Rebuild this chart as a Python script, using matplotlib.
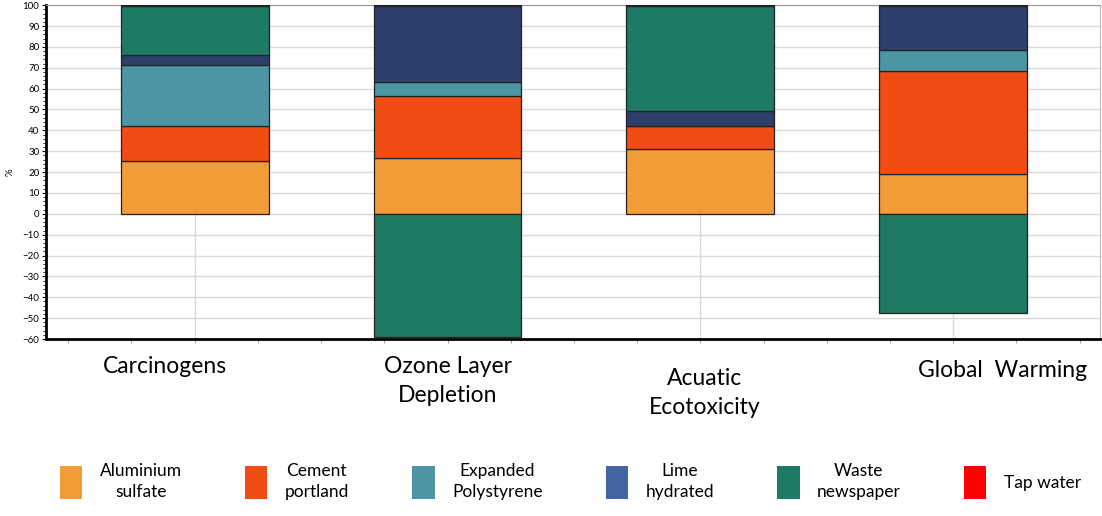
"""Stacked contribution chart (% per impact category)."""
import numpy as np
import matplotlib
matplotlib.use("Agg")
from matplotlib import pyplot as plt
from matplotlib.patches import Patch

# Data ========================================================================

categories = ["Carcinogens", "Ozone Layer\nDepletion", "Acuatic\nEcotoxicity", "Global  Warming"]
series = ["Aluminium\nsulfate", "Cement\nportland", "Expanded\nPolystyrene",
          "Lime\nhydrated", "Waste\nnewspaper", "Tap water"]

aluminium_sulfate = [25.4, 26.7, 31.0, 19.3]
cement_portland = [16.9, 29.7, 10.9, 49.0]
expanded_polystyrene = [28.9, 6.8, 0.0, 10.1]
lime_hydrated = [4.8, 36.5, 7.6, 21.3]
waste_newspaper = [23.7, -59.0, 50.2, -47.7]
tap_water = [0.3, 0.3, 0.3, 0.3]

values = [aluminium_sulfate, cement_portland, expanded_polystyrene,
          lime_hydrated, waste_newspaper, tap_water]

bar_colors = ["#F29C38", "#F04C14", "#4C95A5", "#2D3F6A", "#1E7A64", "#FF0000"]
legend_colors = ["#F29C38", "#F04C14", "#4C95A5", "#4465A3", "#1E7A64", "#FF0000"]

# Plot ========================================================================

plt.rcParams['font.family'] = ['Lato', 'DejaVu Sans']

fig = plt.figure(figsize=(11.02, 5.16), dpi=100)
ax = fig.add_axes([0.042, 0.343, 0.956, 0.647])

x = np.arange(len(categories))
pos_base = np.zeros(len(categories))
neg_base = np.zeros(len(categories))
for vals, color in zip(values, bar_colors):
    vals = np.array(vals)
    bottom = np.where(vals >= 0, pos_base, neg_base)
    ax.bar(x, vals, width=0.585, bottom=bottom, color=color,
           edgecolor="#222222", linewidth=0.9, zorder=3)
    pos_base += np.where(vals >= 0, vals, 0)
    neg_base += np.where(vals < 0, vals, 0)

ax.set_xlim(-0.587, 3.58)
ax.set_ylim(-60, 100)
ax.set_yticks(np.arange(-60, 101, 10))
ax.set_yticks(np.arange(-60, 101, 2), minor=True)
ax.tick_params(axis="y", labelsize=7, length=3, width=0.8, pad=2)
ax.tick_params(axis="y", which="minor", length=2, width=0.6)
ax.set_xticks(np.arange(-0.5, 3.6, 0.25))
ax.set_xticklabels([])
ax.tick_params(axis="x", length=3, width=0.6, color="#888888")
ax.set_ylabel("%", fontsize=7, labelpad=6)

ax.grid(axis="y", color="#DADADA", linewidth=1, zorder=0)
for xi in x:
    ax.axvline(xi, color="#DADADA", linewidth=1, zorder=0)

ax.spines["left"].set_linewidth(2)
ax.spines["bottom"].set_linewidth(2)
ax.spines["top"].set_color("#999999")
ax.spines["right"].set_color("#BBBBBB")

label_offsets = [-0.117, 0.0, 0.016, 0.194]
label_y = [-0.052, -0.052, -0.087, -0.062]
for xi, name, dx, ly in zip(x, categories, label_offsets, label_y):
    ax.text(xi + dx, ly, name, transform=ax.get_xaxis_transform(),
            ha="center", va="top", fontsize=16.5, linespacing=1.45)

handles = [Patch(facecolor=c, edgecolor="none") for c in legend_colors]
leg = fig.legend(handles, series, loc="lower left",
                 bbox_to_anchor=(0.04, 0.0, 0.955, 0.13), mode="expand",
                 ncol=6, frameon=False, fontsize=12.5, handlelength=1.3,
                 handleheight=2.5, handletextpad=1.0)
for t in leg.get_texts():
    t.set_multialignment("center")
    t.set_linespacing(1.45)

fig.savefig("out.png", dpi=100)
